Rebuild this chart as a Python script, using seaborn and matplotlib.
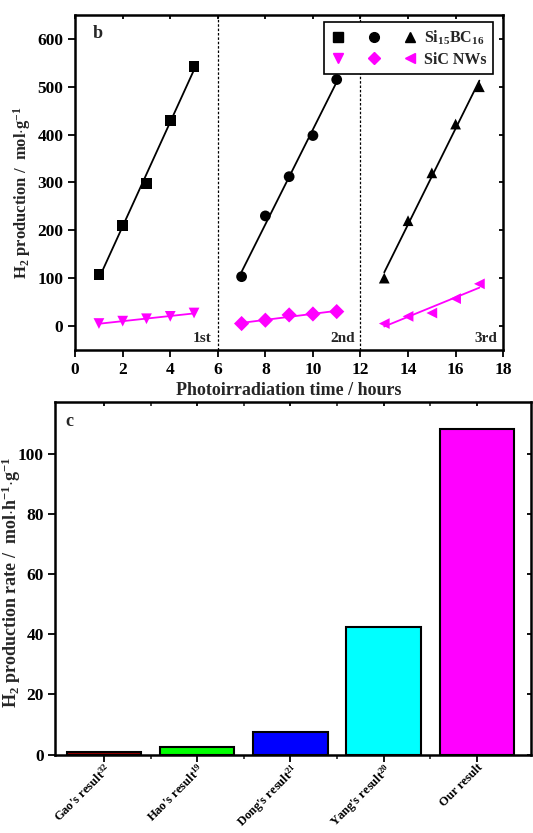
import numpy as np
import pandas as pd
import matplotlib
matplotlib.use('Agg')
import matplotlib.pyplot as plt
from matplotlib.legend_handler import HandlerTuple
from matplotlib.lines import Line2D
import seaborn as sns

sns.set_style('ticks')
plt.rcParams['font.family'] = ['Liberation Serif', 'DejaVu Serif']
plt.rcParams['font.weight'] = 'bold'
plt.rcParams['mathtext.fontset'] = 'custom'
plt.rcParams['mathtext.rm'] = 'Liberation Serif:bold'
plt.rcParams['mathtext.it'] = 'Liberation Serif:bold'
plt.rcParams['mathtext.bf'] = 'Liberation Serif:bold'

# Panel b data: three irradiation cycles
time_1 = [1, 2, 3, 4, 5]
time_2 = [7, 8, 9, 10, 11]
time_3 = [13, 14, 15, 16, 17]
sibc_1 = [107, 210, 298, 430, 542]
sibc_2 = [103, 230, 312, 398, 515]
sibc_3 = [100, 220, 320, 422, 500]
sic_1 = [5, 10, 15, 20, 27]
sic_2 = [5, 12, 23, 25, 30]
sic_3 = [5, 20, 27, 57, 88]

# Panel c data
labels = ["Gao's result$^{32}$", "Hao's result$^{19}$", "Dong's result$^{21}$",
          "Yang's result$^{20}$", "Our result"]
rates = [1.0, 2.7, 7.5, 42.3, 108.2]
bar_colors = ['#990000', '#00ff00', '#0000ff', '#00ffff', '#ff00ff']

fig = plt.figure(figsize=(5.33, 8.33), dpi=100)
ax1 = fig.add_axes([0.141, 0.580, 0.803, 0.402])
ax2 = fig.add_axes([0.104, 0.094, 0.892, 0.423])

# --- panel b ---
series = [
    (time_1, sibc_1, 's', 'black'), (time_2, sibc_2, 'o', 'black'), (time_3, sibc_3, '^', 'black'),
    (time_1, sic_1, 'v', '#ff00ff'), (time_2, sic_2, 'D', '#ff00ff'), (time_3, sic_3, '<', '#ff00ff'),
]
for x, y, m, c in series:
    df = pd.DataFrame({'x': x, 'y': y})
    sns.regplot(data=df, x='x', y='y', ax=ax1, ci=None, marker=m, color=c,
                scatter_kws={'s': 60, 'alpha': 1, 'edgecolor': 'none', 'zorder': 3},
                line_kws={'lw': 1.3})

for xv in [6, 12]:
    ax1.axvline(xv, color='black', ls=(0, (2, 1.5)), lw=0.9)

ax1.set_xlim(0, 18)
ax1.set_ylim(-50, 650)
ax1.set_xticks(np.arange(0, 19, 2))
ax1.set_yticks(np.arange(0, 601, 100))
ax1.set_xlabel('Photoirradiation time / hours', fontsize=13, fontweight='bold', labelpad=3)
ax1.set_ylabel('H$_2$ production /  mol$\\cdot$g$^{-1}$', fontsize=12, fontweight='bold')
ax1.yaxis.set_label_coords(-0.098, 0.47)
ax1.text(0.04, 0.97, 'b', transform=ax1.transAxes, fontsize=13, fontweight='bold', va='top')
ax1.text(5.75, -40, '1st', ha='right', va='bottom', fontsize=11, fontweight='bold')
ax1.text(11.75, -40, '2nd', ha='right', va='bottom', fontsize=11, fontweight='bold')
ax1.text(17.75, -40, '3rd', ha='right', va='bottom', fontsize=11, fontweight='bold')

h_sq = Line2D([], [], marker='s', color='black', ls='none', ms=7)
h_ci = Line2D([], [], marker='o', color='black', ls='none', ms=7)
h_tr = Line2D([], [], marker='^', color='black', ls='none', ms=7)
h_dv = Line2D([], [], marker='v', color='#ff00ff', ls='none', ms=7)
h_di = Line2D([], [], marker='D', color='#ff00ff', ls='none', ms=6)
h_lt = Line2D([], [], marker='<', color='#ff00ff', ls='none', ms=7)
leg = ax1.legend([(h_sq, h_ci, h_tr), (h_dv, h_di, h_lt)],
                 ['Si$_{15}$BC$_{16}$', 'SiC NWs'],
                 handler_map={tuple: HandlerTuple(ndivide=None, pad=1.2)},
                 handlelength=5.5, loc='upper right', bbox_to_anchor=(0.977, 0.979),
                 borderaxespad=0, fancybox=False, edgecolor='black', framealpha=1,
                 prop={'size': 11.5, 'weight': 'bold'}, borderpad=0.4,
                 labelspacing=0.3, handletextpad=0.4)
leg.get_frame().set_linewidth(1.2)

# --- panel c ---
dfc = pd.DataFrame({'label': labels, 'rate': rates})
sns.barplot(data=dfc, x='label', y='rate', hue='label', palette=bar_colors,
            legend=False, ax=ax2, width=0.8, edgecolor='black', linewidth=1.5,
            saturation=1)
ax2.set_xlim(-0.52, 4.58)
ax2.set_ylim(0, 117)
ax2.set_yticks(np.arange(0, 101, 20))
ax2.set_xlabel('')
ax2.set_ylabel('H$_2$ production rate /  mol$\\cdot$h$^{-1}$$\\cdot$g$^{-1}$',
               fontsize=13, fontweight='bold')
ax2.yaxis.set_label_coords(-0.068, 0.49)
ax2.set_xticks(range(len(labels)))
ax2.set_xticks(np.arange(0.5, 4.5, 1), minor=True)
ax2.set_xticklabels(labels, rotation=45, ha='right', va='top', rotation_mode='anchor',
                    fontsize=9)
ax2.text(0.02, 0.97, 'c', transform=ax2.transAxes, fontsize=13, fontweight='bold', va='top')

for ax in (ax1, ax2):
    for s in ax.spines.values():
        s.set_visible(True)
        s.set_linewidth(1.8)
        s.set_color('black')
    ax.tick_params(axis='both', which='major', labelsize=12.5, width=1.3, length=5,
                   direction='out', colors='black')
    ax.tick_params(axis='both', which='minor', width=1.2, length=3, direction='out')
    ax.tick_params(axis='x', top=True, which='both')
    ax.tick_params(axis='y', right=True, which='both')
    for t in ax.get_xticklabels() + ax.get_yticklabels():
        t.set_fontweight('bold')
ax2.tick_params(axis='x', labelsize=9, pad=0)
for ax in (ax1, ax2):
    for tk in ax.xaxis.get_major_ticks() + ax.xaxis.get_minor_ticks():
        tk.tick2line.set_marker(3)
        tk.tick2line.set_markersize(3)
    for tk in ax.yaxis.get_major_ticks():
        tk.tick2line.set_marker(0)
        tk.tick2line.set_markersize(3)

fig.savefig('out.png', dpi=100)
